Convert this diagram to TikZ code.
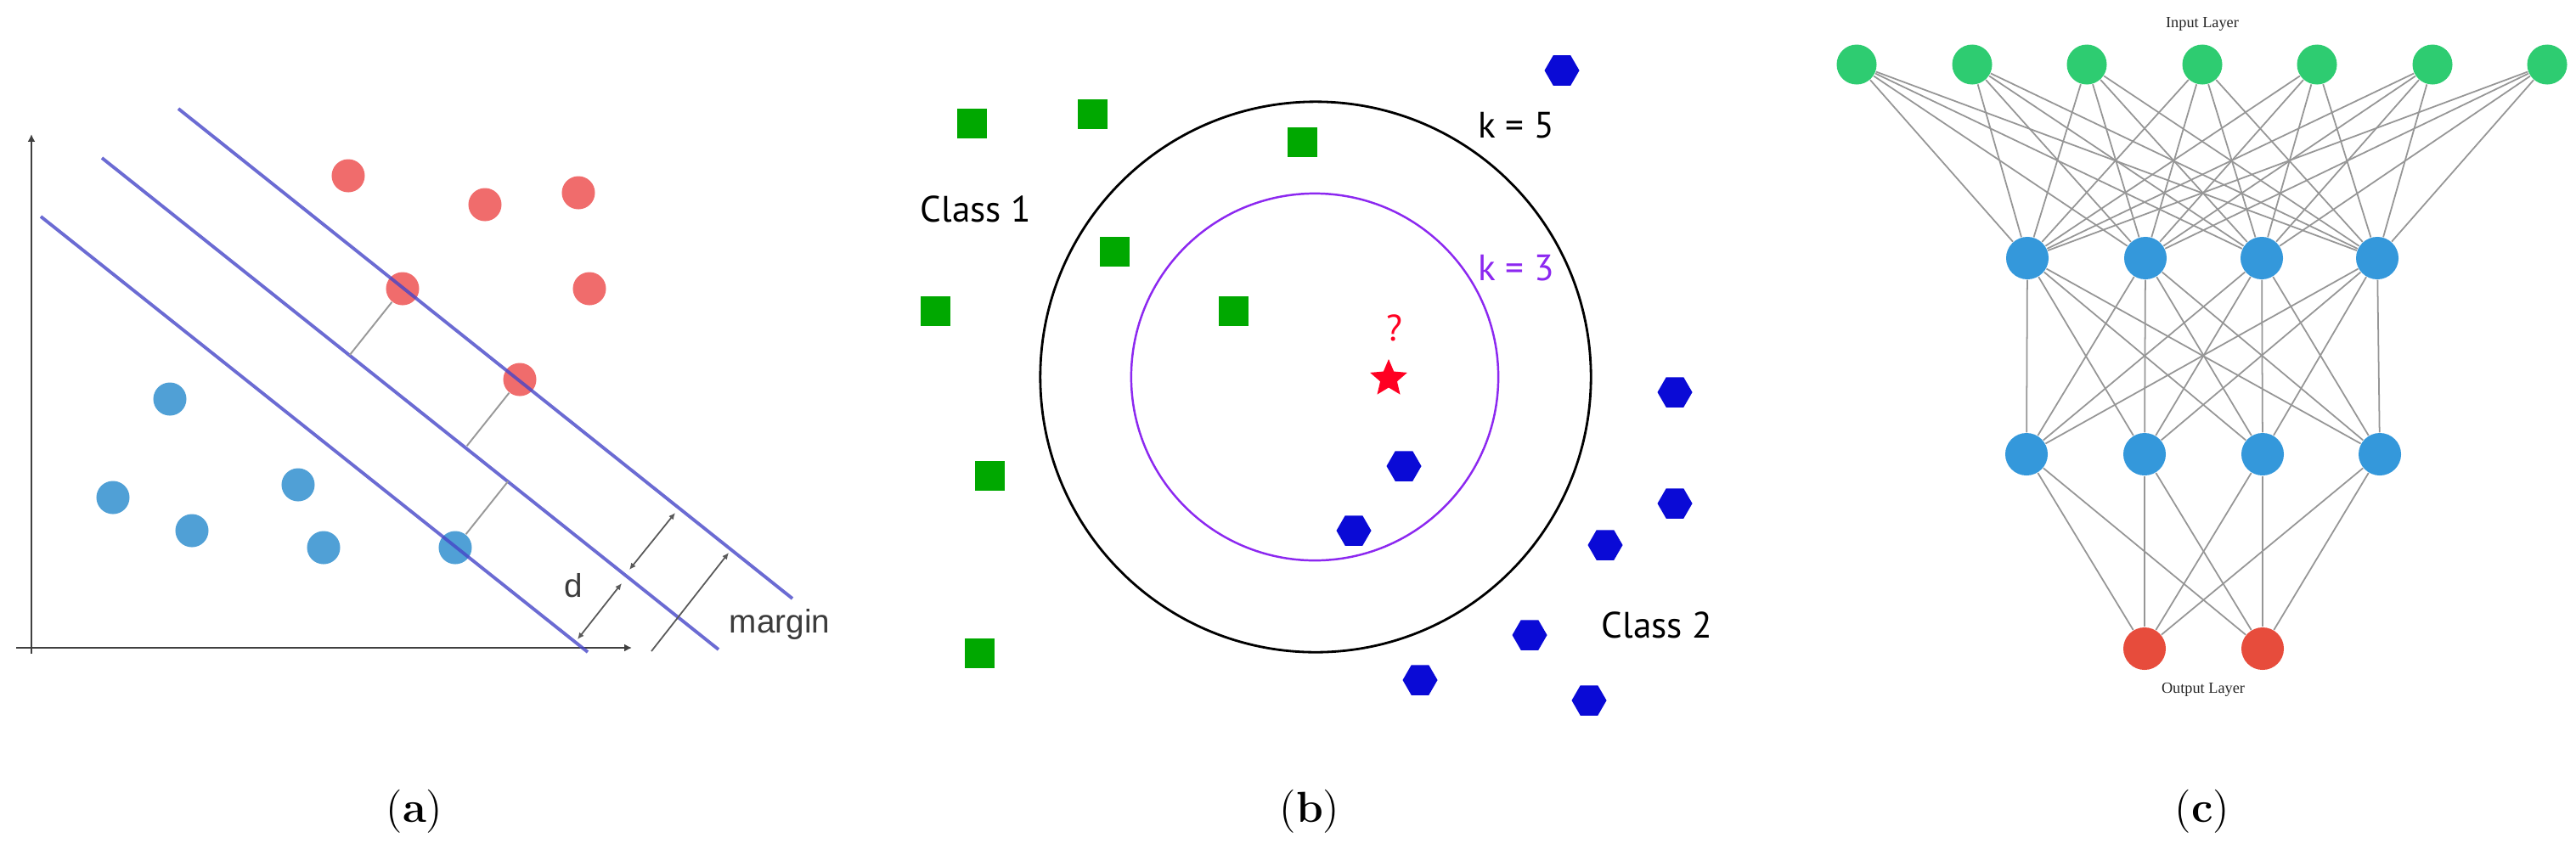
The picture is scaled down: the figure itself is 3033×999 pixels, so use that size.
\documentclass[tikz,border=0pt]{standalone}
\usepackage{fontspec}
\usetikzlibrary{shapes.geometric,arrows.meta,calc}
\newfontfamily\svmfont{Liberation Sans}
\newfontfamily\knnfont{PT Sans}
\newfontfamily\nnfont{Liberation Serif}
\definecolor{svmred}{RGB}{240,108,108}
\definecolor{svmblue}{RGB}{80,160,214}
\definecolor{svmline}{RGB}{70,70,200}
\definecolor{svmtext}{RGB}{60,60,60}
\definecolor{knngreen}{RGB}{0,168,0}
\definecolor{knnblue}{RGB}{10,10,214}
\definecolor{knnpurple}{RGB}{140,40,240}
\definecolor{knnred}{RGB}{255,0,34}
\definecolor{nngreen}{HTML}{2ECC71}
\definecolor{nnblue}{HTML}{3498DB}
\definecolor{nnred}{HTML}{E74C3C}
\definecolor{nnedge}{RGB}{150,150,150}
\begin{document}
\begin{tikzpicture}[x=0.01cm,y=-0.01cm,
  dot/.style={circle,inner sep=0pt,minimum size=0.39cm},
  reddot/.style={dot,fill=svmred},
  bluedot/.style={dot,fill=svmblue},
  hyper/.style={svmline,line width=1.1pt,opacity=0.8},
  perp/.style={black!40,line width=0.55pt},
  dimarrow/.style={black!65,line width=0.5pt},
  axis/.style={black!75,line width=0.6pt,-{Latex[length=2.5pt,width=2.5pt]}},
  svmlabel/.style={font=\svmfont\fontsize{11}{13}\selectfont,text=svmtext,inner sep=0pt},
  sq/.style={rectangle,fill=knngreen,inner sep=0pt,minimum size=0.35cm},
  hexa/.style={regular polygon,regular polygon sides=6,fill=knnblue,inner sep=0pt,minimum size=0.41cm},
  knnlabel/.style={font=\knnfont\fontsize{12.3}{14}\selectfont,inner sep=0pt},
  neuron/.style={circle,inner sep=0pt,minimum size=0.48cm},
  edge/.style={nnedge,line width=0.5pt},
  nnlabel/.style={font=\nnfont\fontsize{5.2}{6}\selectfont,text=black!85,inner sep=0pt},
  caption/.style={font=\fontsize{14.5}{17}\selectfont,inner sep=0pt}]
\useasboundingbox (0,0) rectangle (3033,999);
\fill[white] (0,0) rectangle (3033,999);

% ---------------- (a) SVM ----------------
\coordinate (yb) at (37,770);
\coordinate (yt) at (37,158);
\coordinate (xl) at (19,763);
\coordinate (xr) at (744,763);
\draw[axis] (yb) -- (yt);
\draw[axis] (xl) -- (xr);

\node[reddot] (r1) at (410,207) {};
\node[reddot] (r2) at (571,241) {};
\node[reddot] (r3) at (681,227) {};
\node[reddot] (r4) at (474,340) {};
\node[reddot] (r5) at (694,340) {};
\node[reddot] (r6) at (612,447) {};
\node[bluedot] (b1) at (200,470) {};
\node[bluedot] (b2) at (133,586) {};
\node[bluedot] (b3) at (226,625) {};
\node[bluedot] (b4) at (351,571) {};
\node[bluedot] (b5) at (381,645) {};
\node[bluedot] (b6) at (536,645) {};

\coordinate (l1a) at (48,255);  \coordinate (l1b) at (692,768);
\coordinate (l2a) at (120,186); \coordinate (l2b) at (846,765);
\coordinate (l3a) at (210,128); \coordinate (l3b) at (933,705);
\draw[hyper] (l1a) -- (l1b);
\draw[hyper] (l2a) -- (l2b);
\draw[hyper] (l3a) -- (l3b);

\coordinate (p4) at ($(r4)+(-62.3,78.2)$);
\coordinate (p6) at ($(r6)+(-62.3,78.2)$);
\coordinate (pb) at ($(b6)+(62.3,-78.2)$);
\draw[perp] (r4) -- (p4);
\draw[perp] (r6) -- (p6);
\draw[perp] (b6) -- (pb);

\coordinate (da) at (680,753);
\coordinate (db) at (732,687);
\coordinate (dc) at (741,671);
\coordinate (dd) at (795,604);
\coordinate (ma) at (767,767);
\coordinate (mb) at (858,651);
\draw[dimarrow,{Latex[length=2.2pt,width=2pt]}-{Latex[length=2.2pt,width=2pt]}] (da) -- (db);
\draw[dimarrow,{Latex[length=2.2pt,width=2pt]}-{Latex[length=2.2pt,width=2pt]}] (dc) -- (dd);
\draw[dimarrow,-{Latex[length=2.2pt,width=2pt]}] (ma) -- (mb);
\node[svmlabel] (dlab) at (675,690) {d};
\node[svmlabel] (mlab) at (918,735) {margin};

% ---------------- (b) kNN ----------------
\node[circle,draw=black,line width=0.8pt,inner sep=0pt,minimum size=6.48cm] (k5c) at (1549,444) {};
\node[circle,draw=knnpurple,line width=0.7pt,inner sep=0pt,minimum size=4.32cm] (k3c) at (1548,444) {};

\node[sq] (g1) at (1144,145) {};
\node[sq] (g2) at (1286,134) {};
\node[sq] (g3) at (1533,167) {};
\node[sq] (g4) at (1312,296) {};
\node[sq] (g5) at (1101,366) {};
\node[sq] (g6) at (1452,366) {};
\node[sq] (g7) at (1165,560) {};
\node[sq] (g8) at (1153,769) {};

\node[hexa] (x1) at (1839,83) {};
\node[hexa] (x2) at (1972,462) {};
\node[hexa] (x3) at (1653,549) {};
\node[hexa] (x4) at (1972,593) {};
\node[hexa] (x5) at (1890,642) {};
\node[hexa] (x6) at (1594,625) {};
\node[hexa] (x7) at (1801,748) {};
\node[hexa] (x8) at (1672,801) {};
\node[hexa] (x9) at (1871,825) {};

\node[star,star points=5,star point ratio=2.2,fill=knnred,inner sep=0pt,minimum size=0.46cm] (qs) at (1635,446) {};
\node[knnlabel,text=knnred] (qm) at (1642,386) {?};

\node[knnlabel] (k5lab) at (1785,148) {k = 5};
\node[knnlabel,text=knnpurple] (k3lab) at (1785,316) {k = 3};
\node[knnlabel] (c1lab) at (1149,246) {Class 1};
\node[knnlabel] (c2lab) at (1951,736) {Class 2};

% ---------------- (c) Neural network ----------------
\foreach \n/\x in {1/2186,2/2322,3/2457,4/2593,5/2728,6/2864,7/2999}
  \node[neuron,fill=nngreen,minimum size=0.47cm] (i\n) at (\x,76) {};
\foreach \n/\x in {1/2387,2/2526,3/2663,4/2799}
  \node[neuron,fill=nnblue,minimum size=0.50cm] (h\n) at (\x,304) {};
\foreach \n/\x in {1/2386,2/2525,3/2664,4/2802}
  \node[neuron,fill=nnblue,minimum size=0.50cm] (k\n) at (\x,535) {};
\foreach \n/\x in {1/2525,2/2664}
  \node[neuron,fill=nnred,minimum size=0.50cm] (o\n) at (\x,764) {};

\foreach \a in {1,...,7}
  \foreach \b in {1,...,4}
    \draw[edge] (i\a) -- (h\b);
\foreach \a in {1,...,4}
  \foreach \b in {1,...,4}
    \draw[edge] (h\a) -- (k\b);
\foreach \a in {1,...,4}
  \foreach \b in {1,2}
    \draw[edge] (k\a) -- (o\b);

\node[nnlabel] (inlab) at (2593,28) {Input Layer};
\node[nnlabel] (outlab) at (2594,812) {Output Layer};

% ---------------- captions ----------------
\node[caption] (capa) at (488,956) {(\textbf{a})};
\node[caption] (capb) at (1542,956) {(\textbf{b})};
\node[caption] (capc) at (2593,956) {(\textbf{c})};
\end{tikzpicture}
\end{document}
